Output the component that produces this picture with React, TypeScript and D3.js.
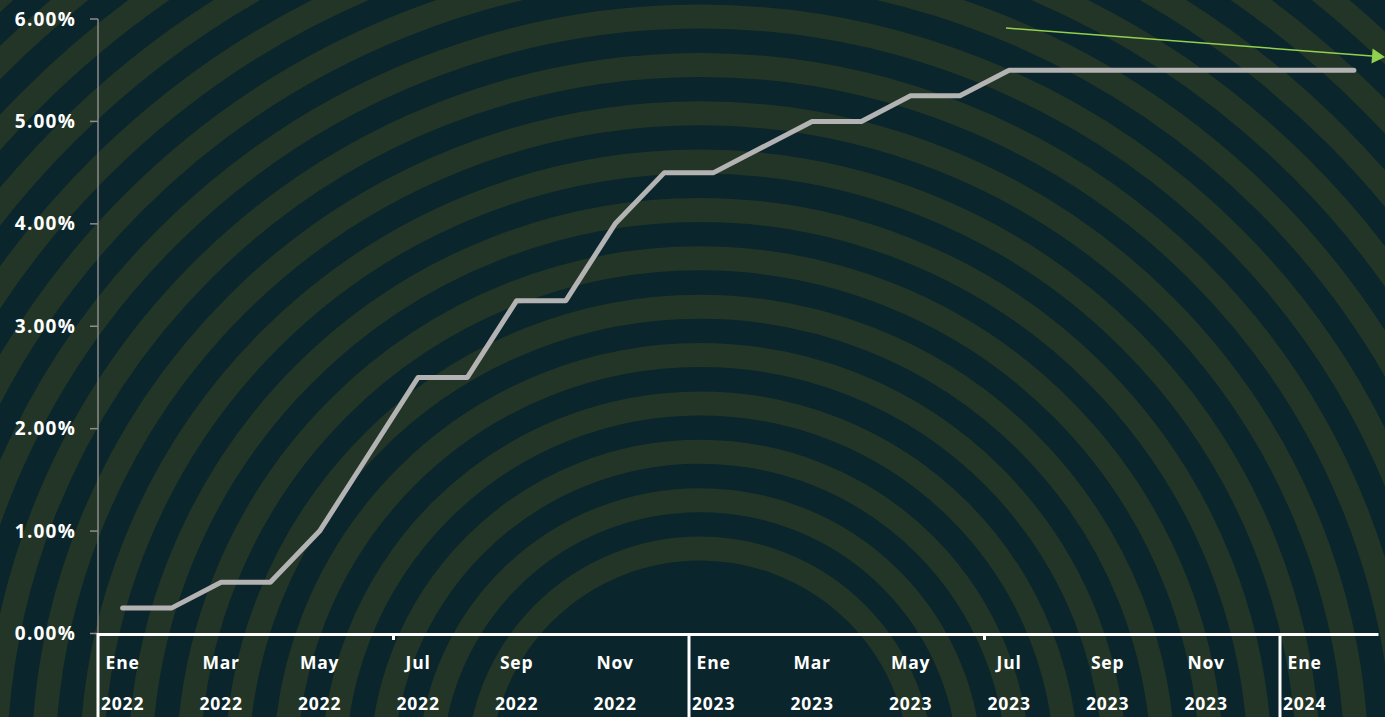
import React from "react";
import * as d3 from "d3";

const months = ["Ene", "Feb", "Mar", "Abr", "May", "Jun", "Jul", "Ago", "Sep", "Oct", "Nov", "Dic"];
const categories: string[] = [
  "Ene 2022", "Feb 2022", "Mar 2022", "Abr 2022", "May 2022", "Jun 2022",
  "Jul 2022", "Ago 2022", "Sep 2022", "Oct 2022", "Nov 2022", "Dic 2022",
  "Ene 2023", "Feb 2023", "Mar 2023", "Abr 2023", "May 2023", "Jun 2023",
  "Jul 2023", "Ago 2023", "Sep 2023", "Oct 2023", "Nov 2023", "Dic 2023",
  "Ene 2024", "Feb 2024",
];
const rates: number[] = [
  0.25, 0.25, 0.5, 0.5, 1.0, 1.75, 2.5, 2.5, 3.25, 3.25, 4.0, 4.5,
  4.5, 4.75, 5.0, 5.0, 5.25, 5.25, 5.5, 5.5, 5.5, 5.5, 5.5, 5.5,
  5.5, 5.5,
];
const yTicks: number[] = [0, 1, 2, 3, 4, 5, 6];
const years: string[] = ["2022", "2023", "2024"];

const W = 1385;
const H = 717;
const BG = "#0a252b";
const RING = "#223526";
const FONT = "'Open Sans', 'DejaVu Sans', sans-serif";

export default function App() {
  const x = d3.scaleBand<string>().domain(categories).range([98, 98 + 26 * 49.25]).paddingInner(0).paddingOuter(0);
  const y = d3.scaleLinear().domain([0, 6]).range([633.5, 19]);
  const line = d3
    .line<number>()
    .x((_, i) => (x(categories[i]) as number) + x.bandwidth() / 2)
    .y((d) => y(d));

  // background rings
  const cx = 700, cy = 770;
  const rings: number[] = [];
  for (let k = 0; k < 19; k++) rings.push(221.5 + 48.36 * k);

  const yearStarts = years.map((yr) => x("Ene " + yr) as number);
  const midTicks = ["Jul 2022", "Jul 2023"].map((c) => x(c) as number);

  // arrow
  const ax1 = 1006, ay1 = 28, ax2 = 1385, ay2 = 57;
  const ang = Math.atan2(ay2 - ay1, ax2 - ax1);
  const hl = 13, hw = 7.5;
  const bx = ax2 - hl * Math.cos(ang), by = ay2 - hl * Math.sin(ang);
  const p1 = [bx + hw * Math.sin(ang), by - hw * Math.cos(ang)];
  const p2 = [bx - hw * Math.sin(ang), by + hw * Math.cos(ang)];

  return (
    <svg width={W} height={H} style={{ position: "absolute", left: 0, top: 0, display: "block" }}>
      <defs>
        <clipPath id="clipAll">
          <rect x={0} y={0} width={W} height={H} />
        </clipPath>
      </defs>
      <rect x={0} y={0} width={W} height={H} fill={BG} />
      <g clipPath="url(#clipAll)">
        {rings.map((r, i) => (
          <circle key={i} cx={cx} cy={cy} r={r} fill="none" stroke={RING} strokeWidth={24} />
        ))}
      </g>

      {/* y axis */}
      <line x1={98} x2={98} y1={y(6)} y2={y(0)} stroke="#8c8c8c" strokeWidth={1.5} />
      {yTicks.map((t) => (
        <g key={t}>
          <line x1={90} x2={98} y1={y(t)} y2={y(t)} stroke="#8c8c8c" strokeWidth={1.5} />
          <text
            x={76}
            y={y(t)}
            dy="0.35em"
            textAnchor="end"
            fill="#ffffff"
            fontFamily={FONT}
            fontWeight={700}
            fontSize={19}
            letterSpacing={1.2}
          >
            {t.toFixed(2) + "%"}
          </text>
        </g>
      ))}

      {/* x axis */}
      <line x1={97} x2={1378.5} y1={634.5} y2={634.5} stroke="#ffffff" strokeWidth={3} />
      {yearStarts.map((xs, i) => (
        <line key={i} x1={xs} x2={xs} y1={633} y2={H} stroke="#ffffff" strokeWidth={3} />
      ))}
      {midTicks.map((xs, i) => (
        <line key={i} x1={xs} x2={xs} y1={634} y2={640} stroke="#ffffff" strokeWidth={3} />
      ))}
      {categories.map((c, i) =>
        i % 2 === 0 ? (
          <g key={c}>
            <text
              x={(x(c) as number) + x.bandwidth() / 2}
              y={663}
              dy="0.35em"
              textAnchor="middle"
              fill="#ffffff"
              fontFamily={FONT}
              fontWeight={700}
              fontSize={17.5}
              letterSpacing={0.8}
            >
              {months[i % 12]}
            </text>
            <text
              x={(x(c) as number) + x.bandwidth() / 2}
              y={704}
              dy="0.35em"
              textAnchor="middle"
              fill="#ffffff"
              fontFamily={FONT}
              fontWeight={700}
              fontSize={17.5}
              letterSpacing={0.8}
            >
              {c.split(" ")[1]}
            </text>
          </g>
        ) : null
      )}

      {/* series */}
      <path d={line(rates) || ""} fill="none" stroke="#b3b3b3" strokeWidth={5} strokeLinecap="round" strokeLinejoin="round" />

      {/* arrow */}
      <line x1={ax1} y1={ay1} x2={bx} y2={by} stroke="#92d050" strokeWidth={1.5} />
      <polygon points={`${ax2},${ay2} ${p1[0]},${p1[1]} ${p2[0]},${p2[1]}`} fill="#92d050" />
    </svg>
  );
}
